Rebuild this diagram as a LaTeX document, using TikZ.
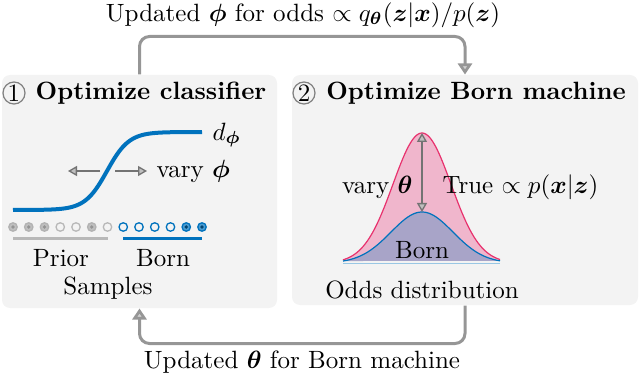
\documentclass[tikz,border=0pt]{standalone}
\usepackage{amsmath,bm}
\usetikzlibrary{arrows.meta}
\definecolor{mblue}{RGB}{0,114,189}
\definecolor{boxbg}{RGB}{243,243,243}
\definecolor{conngray}{RGB}{150,150,150}
\definecolor{pinkline}{RGB}{232,50,110}
\definecolor{pinkfill}{RGB}{240,182,204}
\definecolor{bornfill}{RGB}{168,164,200}
\def\u{0.4pt}
\tikzset{
  panel/.style={fill=boxbg, rounded corners=8*\u, inner sep=0pt},
  conn/.style={draw=conngray, line width=3*\u, rounded corners=10*\u,
    -{Triangle[length=11*\u, width=14*\u, fill=conngray!45]}},
  vtip/.tip={Triangle[length=9*\u, width=10*\u, fill=black!25]},
  vary/.style={draw=black!55, line width=1.3*\u, -vtip},
  num/.style={circle, draw=black!50, line width=1.2*\u, inner sep=0pt, minimum size=22*\u},
  head/.style={font=\bfseries},
  odot/.style={circle, line width=1.3*\u, inner sep=0pt, minimum size=8.5*\u},
}
\begin{document}
\begin{tikzpicture}[x=\u, y=-\u]
\useasboundingbox (0,0) rectangle (640,379);
\node[panel, minimum width=275*\u, minimum height=233*\u] (L) at (139.5,191.5) {};
\node[panel, minimum width=346*\u, minimum height=230*\u] (R) at (465,190) {};
% connectors
\draw[conn] (L.north) -- ++(0,-38) -| (R.north);
\draw[conn] (R.south) -- ++(0,38) -| (L.south);
\node (toplab) at (303,15) {Updated $\bm{\phi}$ for odds $\propto q_{\bm{\theta}}(\bm{z}|\bm{x})/p(\bm{z})$};
\node (botlab) at (302,362) {Updated $\bm{\theta}$ for Born machine};
% left panel
\node[num] (n1) at (14,93) {1};
\node[head] (h1) at (151,93) {Optimize classifier};
\draw[mblue, line width=4*\u] plot[domain=13:202, samples=90] (\x, {210-78/(1+exp(-(\x-107)/11))});
\node[anchor=west, inner sep=0pt] (dphi) at (212,135) {$d_{\bm{\phi}}$};
\coordinate (lc) at (100,171);
\coordinate (rc) at (115,171);
\coordinate (la) at (68,171);
\coordinate (ra) at (147,171);
\draw[vary] (lc) -- (la);
\draw[vary] (rc) -- (ra);
\node[anchor=west, inner sep=0pt] (vphi) at (156,171) {vary $\bm{\phi}$};
% dots
\foreach \i/\t in {0/f,1/f,2/f,3/o,4/o,5/f,6/o}{
  \if\t f
    \node[odot, draw=black!30, fill=black!25] (g\i) at ({13+15.75*\i},227) {};
    \fill[black!42] (g\i) circle (1.8*\u);
  \else
    \node[odot, draw=black!28] (g\i) at ({13+15.75*\i},227) {};
  \fi
}
\foreach \i/\t in {7/o,8/o,9/o,10/o,11/f,12/f}{
  \if\t f
    \node[odot, draw=mblue, fill=mblue!70] (b\i) at ({13+15.75*\i},227) {};
    \fill[mblue!60!black] (b\i) circle (1.8*\u);
  \else
    \node[odot, draw=mblue] (b\i) at ({13+15.75*\i},227) {};
  \fi
}
\draw[black!28, line width=3*\u] (g0.center |- 0,238) coordinate (pl) -- (g6.center |- 0,238) coordinate (pr);
\draw[mblue, line width=3*\u] (b7.center |- 0,238) coordinate (bl) -- (b12.center |- 0,238) coordinate (br);
\node (prior) at (61,258) {Prior};
\node (born1) at (163,258) {Born};
\node (samples) at (108,288) {Samples};
% right panel
\node[num] (n2) at (304,93) {2};
\node[head] (h2) at (476,93) {Optimize Born machine};
\filldraw[fill=pinkfill, draw=pinkline, line width=1.2*\u] plot[domain=343:500, samples=80] (\x, {263-130*exp(-((\x-422)^2)/(2*29^2))});
\filldraw[fill=bornfill, draw=mblue, line width=1.2*\u] plot[domain=343:500, samples=80] (\x, {263-51*exp(-((\x-422)^2)/(2*31^2))});
\draw[mblue!40, line width=1*\u] (343,263) -- (500,263);
\coordinate (tp) at (422,133);
\coordinate (bp) at (422,212);
\draw[vary, vtip-vtip] (tp) -- (bp);
\node[anchor=east, inner sep=0pt] (vth) at (413,187) {vary $\bm{\theta}$};
\node[anchor=west, inner sep=0pt] (true) at (442,187) {True $\propto p(\bm{x}|\bm{z})$};
\node (born2) at (422,250) {Born};
\node (odds) at (422,290) {Odds distribution};
\end{tikzpicture}
\end{document}
